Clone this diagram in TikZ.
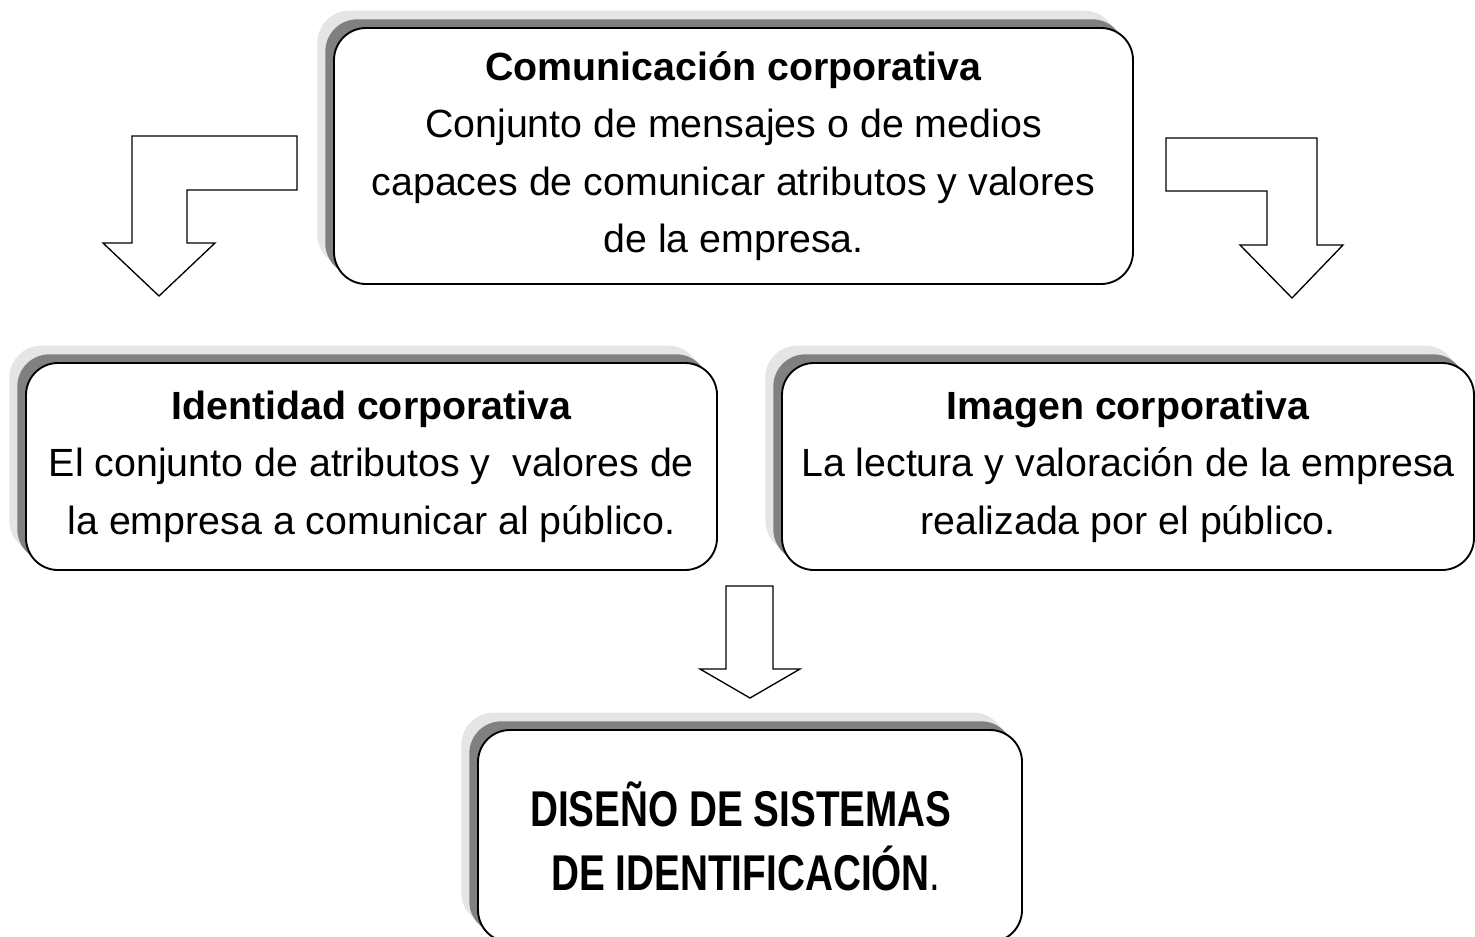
\documentclass[tikz,border=0pt]{standalone}
\usepackage{fontspec}
\setmainfont{Liberation Sans}
\newfontfamily\narrowfont[FakeStretch=0.77]{Liberation Sans}
\usetikzlibrary{shadows}
\begin{document}
\begin{tikzpicture}[x=0.75pt,y=-0.75pt,
  box/.style={draw=black, line width=1.4pt, fill=white, rounded corners=24pt,
    inner sep=0pt, align=center,
    general shadow={fill=black!10, draw=none, shadow xshift=-12.5pt, shadow yshift=13pt},
    general shadow={fill=black!50, draw=none, shadow xshift=-6.5pt, shadow yshift=6.5pt},
    font=\fontsize{29.5pt}{43pt}\selectfont},
  blockarrow/.style={draw=black, line width=1pt, fill=white, line join=miter}]
\useasboundingbox (0,0) rectangle (1475,936);

% boxes
\node[box, minimum width=599.25pt, minimum height=192pt] (com) at (733.5,156)
  {\textbf{Comunicación corporativa}\\ Conjunto de mensajes o de medios\\ capaces de comunicar atributos y valores\\ de la empresa.};
\node[box, minimum width=518.25pt, minimum height=155.25pt] (ide) at (371.5,466.5)
  {\textbf{Identidad corporativa}\\ El conjunto de atributos y~ valores de\\ la empresa a comunicar al público.};
\node[box, minimum width=519pt, minimum height=155.25pt] (ima) at (1128,466.5)
  {\textbf{Imagen corporativa}\\ La lectura y valoración de la empresa\\ realizada por el público.};
\node[box, minimum width=408pt, minimum height=159pt, align=left,
  font={\narrowfont\fontsize{37.7pt}{48pt}\selectfont\bfseries}] (dis) at (750,836)
  {DISEÑO DE SISTEMAS\\ \hspace*{16pt}DE IDENTIFICACIÓN{\mdseries .}\hspace*{22pt}};

% block arrows
\draw[blockarrow] (297,136) -- (132,136) -- (132,243) -- (103,243) -- (159,296)
  -- (215,243) -- (187,243) -- (187,190) -- (297,190) -- cycle;
\draw[blockarrow] (1166,138) -- (1317,138) -- (1317,245) -- (1343,245) -- (1292,298)
  -- (1240,245) -- (1267,245) -- (1267,191) -- (1166,191) -- cycle;
\draw[blockarrow] (726,586) -- (773,586) -- (773,669) -- (800,669) -- (750,698)
  -- (700,669) -- (726,669) -- cycle;
\end{tikzpicture}
\end{document}
